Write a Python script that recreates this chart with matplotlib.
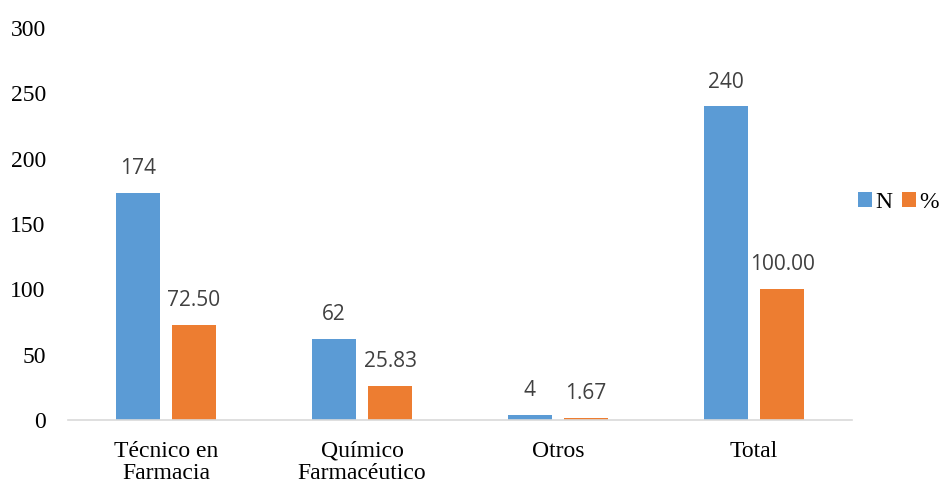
import matplotlib
matplotlib.use("Agg")
import matplotlib.pyplot as plt
import numpy as np

categories = ["Técnico en\nFarmacia", "Químico\nFarmacéutico", "Otros", "Total"]
n_values = [174, 62, 4, 240]
pct_values = [72.50, 25.83, 1.67, 100.00]
n_labels = ["174", "62", "4", "240"]
pct_labels = ["72.50", "25.83", "1.67", "100.00"]
yticks = [0, 50, 100, 150, 200, 250, 300]

blue = "#5B9BD5"
orange = "#ED7D31"

fig = plt.figure(figsize=(9.4, 4.86), dpi=100)
ax = fig.add_axes([68/940, 1-420/486, (852-68)/940, (420-28)/486])

x = np.arange(len(categories))
w = 0.224
off = 0.143
b1 = ax.bar(x - off, n_values, w, color=blue, label="N")
b2 = ax.bar(x + off, pct_values, w, color=orange, label="%")

lab_font = dict(family=["Open Sans", "DejaVu Sans"], size=15, color="#404040")
for bars, labs in ((b1, n_labels), (b2, pct_labels)):
    for b, t in zip(bars, labs):
        ax.annotate(t, (b.get_x() + b.get_width()/2, b.get_height()),
                    xytext=(0, 10), textcoords="offset points",
                    ha="center", va="bottom", **lab_font)

ax.set_xlim(-0.5, len(categories) - 0.5)
ax.set_ylim(0, 300)
ax.set_yticks(yticks)
ax.set_xticks(x)
ax.set_xticklabels(categories, family="Liberation Serif", size=17, linespacing=1.05)
ax.set_yticklabels([str(v) for v in yticks], family="Liberation Serif", size=17)
ax.tick_params(axis="both", length=0)
ax.tick_params(axis="y", pad=16)
ax.tick_params(axis="x", pad=15)
for s in ("top", "right", "left"):
    ax.spines[s].set_visible(False)
ax.spines["bottom"].set_color("#D9D9D9")
ax.spines["bottom"].set_linewidth(1.2)

leg = fig.legend(handles=[b1, b2], labels=["N", "%"], loc="center left",
                 bbox_to_anchor=(853/940, 1-202/486), ncol=2, frameon=False,
                 prop=dict(family="Liberation Serif", size=17),
                 handlelength=0.6, handleheight=0.6, handletextpad=0.15,
                 columnspacing=0.4, borderpad=0.2, borderaxespad=0.0)

fig.savefig("out.png", dpi=100)
